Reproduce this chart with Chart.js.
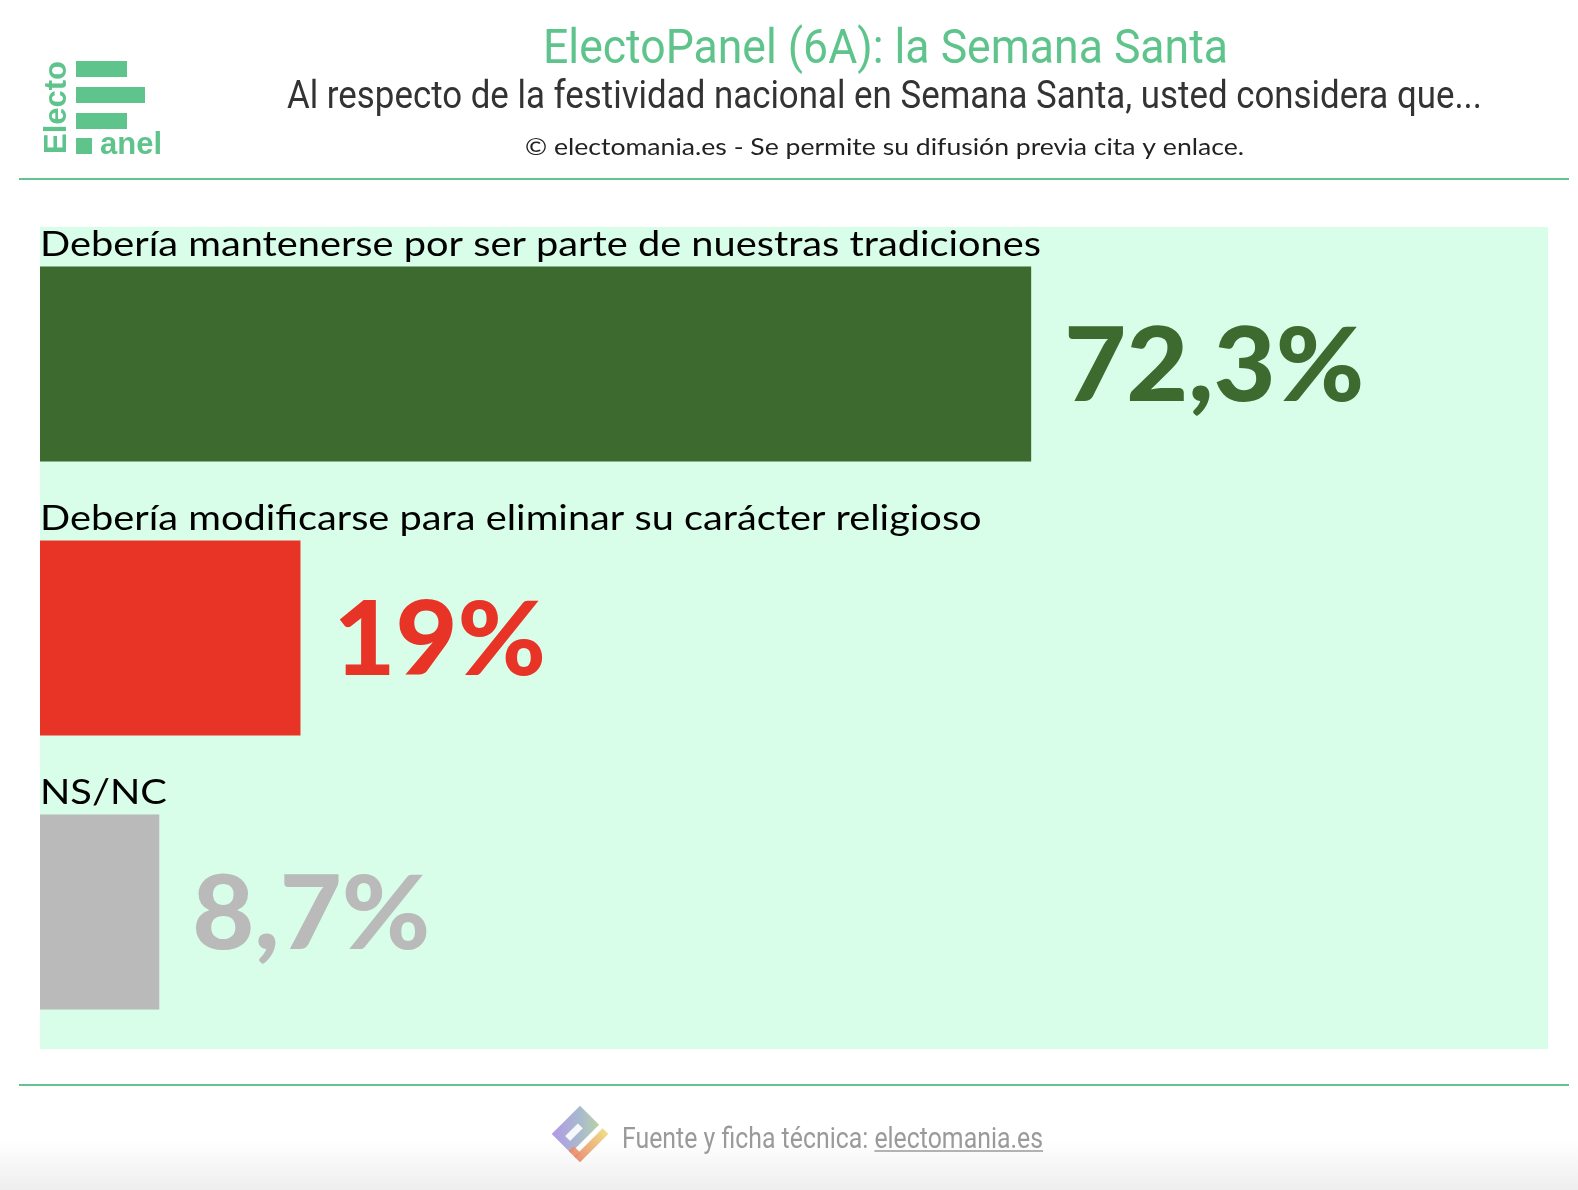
<!DOCTYPE html>
<html>
<head>
<meta charset="utf-8">
<script src="https://cdn.jsdelivr.net/npm/chart.js@4.4.1/dist/chart.umd.min.js"></script>
<style>
  html, body { margin: 0; padding: 0; background: #ffffff; }
  #wrap { position: relative; width: 1578px; height: 1190px; overflow: hidden; }
  canvas { position: absolute; left: 0; top: 0; }
</style>
</head>
<body>
<div id="wrap"><canvas id="chart" width="1578" height="1190"></canvas></div>
<script>
// ---- DATA ----
const categories = [
  'Debería mantenerse por ser parte de nuestras tradiciones',
  'Debería modificarse para eliminar su carácter religioso',
  'NS/NC'
];
const values = [72.3, 19, 8.7];
const barColors = ['#3d6a2f', '#e83426', '#bababa'];
const titleText = 'ElectoPanel (6A): la Semana Santa';
const subtitleText = 'Al respecto de la festividad nacional en Semana Santa, usted considera que...';
const creditText = '© electomania.es - Se permite su difusión previa cita y enlace.';
const footerLead = 'Fuente y ficha técnica: ';
const footerLink = 'electomania.es';

// ---- helpers ----
function fitSX(ctx, text, font, targetW) {
  ctx.save(); ctx.font = font;
  const w = ctx.measureText(text).width;
  ctx.restore();
  return targetW / w;
}
function drawText(ctx, text, x, y, font, color, align, sx) {
  ctx.save();
  ctx.font = font;
  const w = ctx.measureText(text).width * sx;
  let left = x;
  if (align === 'center') left = x - w / 2;
  else if (align === 'right') left = x - w;
  ctx.translate(left, y);
  ctx.scale(sx, 1);
  ctx.fillStyle = color;
  ctx.textAlign = 'left';
  ctx.textBaseline = 'alphabetic';
  ctx.fillText(text, 0, 0);
  ctx.restore();
  return { left: left, width: w };
}
function fmt(v) { return String(v).replace('.', ',') + '%'; }

const GREEN = '#5ec48c';

const decorPlugin = {
  id: 'decor',
  beforeDraw(chart) {
    const ctx = chart.ctx;
    const a = chart.chartArea;
    ctx.save();
    const g = ctx.createLinearGradient(0, 1140, 0, 1190);
    g.addColorStop(0, 'rgba(255,255,255,1)');
    g.addColorStop(1, 'rgba(238,238,238,1)');
    ctx.fillStyle = g;
    ctx.fillRect(0, 1140, 1578, 50);
    ctx.fillStyle = '#d8fde9';
    ctx.fillRect(a.left, a.top, a.right - a.left, a.bottom - a.top);
    ctx.strokeStyle = '#63c48f';
    ctx.lineWidth = 2;
    ctx.beginPath();
    ctx.moveTo(19, 179); ctx.lineTo(1569, 179);
    ctx.moveTo(19, 1085); ctx.lineTo(1569, 1085);
    ctx.stroke();
    ctx.restore();
  },
  afterDraw(chart) {
    const ctx = chart.ctx;
    // ---- logo ----
    ctx.save();
    ctx.fillStyle = GREEN;
    ctx.fillRect(76, 61, 51, 16);
    ctx.fillRect(76, 87, 69, 16);
    ctx.fillRect(76, 113, 51, 16);
    ctx.fillRect(76, 138, 16, 16);
    ctx.font = 'bold 31px "Liberation Sans", Arial, sans-serif';
    ctx.textBaseline = 'alphabetic';
    ctx.fillText('anel', 100, 154);
    ctx.translate(66, 154);
    ctx.rotate(-Math.PI / 2);
    ctx.fillText('Electo', 0, 0);
    ctx.restore();

    // ---- header texts ----
    const tFont = '48px Roboto, sans-serif';
    drawText(ctx, titleText, 885.5, 63, tFont, GREEN, 'center', fitSX(ctx, titleText, tFont, 685));
    const sFont = '38px Roboto, sans-serif';
    drawText(ctx, subtitleText, 884.5, 108, sFont, '#333333', 'center', fitSX(ctx, subtitleText, sFont, 1195));
    const cFont = '23px Lato, sans-serif';
    drawText(ctx, creditText, 884.5, 155, cFont, '#222222', 'center', fitSX(ctx, creditText, cFont, 719));

    // ---- category labels & value labels ----
    const meta = chart.getDatasetMeta(0);
    const labFont = '34.5px Lato, sans-serif';
    const labSX = fitSX(ctx, categories[0], labFont, 1001);
    const valFont = '900 103px Lato, sans-serif';
    const valSX = fitSX(ctx, fmt(values[0]), valFont, 300);
    const capH = 74;
    meta.data.forEach((bar, i) => {
      const top = bar.y - bar.height / 2;
      drawText(ctx, categories[i], chart.chartArea.left, top - 10.5, labFont, '#000000', 'left', labSX);
      drawText(ctx, fmt(values[i]), bar.x + 33, bar.y + capH / 2, valFont, barColors[i], 'left', valSX);
    });

    // ---- footer ----
    const fFont = '29px Roboto, sans-serif';
    const fSX = fitSX(ctx, footerLead + footerLink, fFont, 421);
    const r1 = drawText(ctx, footerLead, 622, 1148, fFont, '#9a9a9a', 'left', fSX);
    const r2 = drawText(ctx, footerLink, r1.left + r1.width, 1148, fFont, '#9a9a9a', 'left', fSX);
    ctx.save();
    ctx.strokeStyle = '#9a9a9a';
    ctx.lineWidth = 1.5;
    ctx.beginPath();
    ctx.moveTo(r2.left, 1151); ctx.lineTo(r2.left + r2.width, 1151);
    ctx.stroke();
    ctx.restore();

    // footer icon
    ctx.save();
    ctx.translate(580, 1134);
    ctx.rotate(-Math.PI / 4);
    const gi = ctx.createLinearGradient(-20, -20, 20, 20);
    gi.addColorStop(0, '#a98ee6');
    gi.addColorStop(0.5, '#9fb3c8');
    gi.addColorStop(1, '#b9d98e');
    ctx.globalAlpha = 0.9;
    ctx.fillStyle = gi;
    ctx.fillRect(-20, -20, 40, 27);
    ctx.fillStyle = '#ffffff';
    ctx.fillRect(-12, -9, 18, 7);
    const go = ctx.createLinearGradient(-20, 0, 20, 0);
    go.addColorStop(0, '#e8866a');
    go.addColorStop(1, '#efd97a');
    ctx.fillStyle = go;
    ctx.fillRect(-20, 12, 40, 8);
    ctx.fillRect(-20, 4, 7, 10);
    ctx.restore();
  }
};

new Chart(document.getElementById('chart'), {
  type: 'bar',
  data: {
    labels: categories,
    datasets: [{
      data: values,
      backgroundColor: barColors,
      borderWidth: 0,
      barPercentage: 0.712,
      categoryPercentage: 1
    }]
  },
  options: {
    indexAxis: 'y',
    responsive: false,
    animation: false,
    devicePixelRatio: 1,
    layout: { padding: { left: 40, right: 30, top: 227, bottom: 141 } },
    plugins: { legend: { display: false }, tooltip: { enabled: false }, title: { display: false } },
    scales: {
      x: { display: false, min: 0, max: 110, grid: { display: false } },
      y: { display: false, grid: { display: false } }
    }
  },
  plugins: [decorPlugin]
});
</script>
</body>
</html>
